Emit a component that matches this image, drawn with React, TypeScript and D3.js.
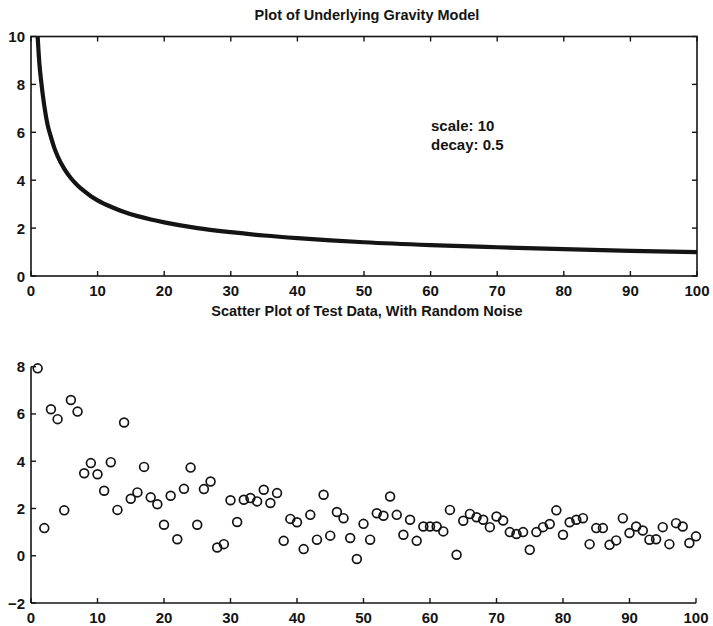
import React from "react";
import * as d3 from "d3";

// ---- Data ----
const modelX = [1, 1.25, 1.5, 2, 2.5, 3, 3.5, 4, 5, 6, 7, 8, 9, 10, 12, 14, 16, 18, 20, 25, 30, 35, 40, 45, 50, 60, 70, 80, 90, 100];
const modelY = [10, 8.9, 8.2, 7.1, 6.3, 5.8, 5.35, 5.0, 4.47, 4.08, 3.78, 3.54, 3.33, 3.16, 2.89, 2.67, 2.5, 2.36, 2.24, 2.0, 1.83, 1.69, 1.58, 1.49, 1.41, 1.29, 1.2, 1.12, 1.05, 1.0];

const noisyY = [
  7.93, 1.17, 6.2, 5.78, 1.92, 6.59, 6.1, 3.49, 3.92, 3.45,
  2.75, 3.96, 1.94, 5.64, 2.41, 2.68, 3.76, 2.47, 2.18, 1.31,
  2.54, 0.7, 2.83, 3.73, 1.31, 2.82, 3.14, 0.35, 0.49, 2.35,
  1.43, 2.37, 2.44, 2.3, 2.79, 2.23, 2.65, 0.63, 1.56, 1.42,
  0.28, 1.73, 0.68, 2.58, 0.85, 1.85, 1.59, 0.75, -0.14, 1.35,
  0.68, 1.8, 1.69, 2.51, 1.73, 0.89, 1.52, 0.63, 1.24, 1.24,
  1.24, 1.03, 1.94, 0.04, 1.48, 1.77, 1.63, 1.52, 1.21, 1.66,
  1.49, 1.0, 0.92, 1.0, 0.25, 1.0, 1.21, 1.34, 1.92, 0.89,
  1.42, 1.52, 1.59, 0.49, 1.17, 1.17, 0.46, 0.65, 1.59, 0.96,
  1.24, 1.07, 0.68, 0.7, 1.21, 0.49, 1.38, 1.24, 0.54, 0.82,
];
const noisyX = noisyY.map((_, i) => i + 1);

const xTicks = [0, 10, 20, 30, 40, 50, 60, 70, 80, 90, 100];
const topYTicks = [0, 2, 4, 6, 8, 10];
const bottomYTicks = [-2, 0, 2, 4, 6, 8];

const topTitle = "Plot of Underlying Gravity Model";
const bottomTitle = "Scatter Plot of Test Data, With Random Noise";
const annotation = ["scale: 10", "decay: 0.5"];

const FONT = "'Liberation Sans', Arial, Helvetica, sans-serif";
const INK = "#141414";

export default function App() {
  const left = 31;
  const right = 697;

  // Top panel
  const xT = d3.scaleLinear().domain([0, 100]).range([left, right]);
  const yT = d3.scaleLinear().domain([0, 10]).range([276, 36.5]);
  const line = d3
    .line<number>()
    .x((_, i) => xT(modelX[i]))
    .y((d) => yT(d))
    .curve(d3.curveMonotoneX);

  // Bottom panel
  const xB = d3.scaleLinear().domain([0, 100]).range([left, 696]);
  const yB = d3.scaleLinear().domain([-2, 8]).range([603, 366.7]);

  const tickLen = 5;
  const fs = 15;

  return (
    <svg
      width={713}
      height={626}
      style={{ position: "absolute", left: 0, top: 0, background: "#fff" }}
      fontFamily={FONT}
    >
      <rect x={0} y={0} width={713} height={626} fill="#fff" />
      {/* ---- Top panel ---- */}
      <text x={367} y={20} textAnchor="middle" fontSize={14.5} fontWeight="bold" fill={INK}>
        {topTitle}
      </text>
      <rect
        x={xT(0)}
        y={yT(10)}
        width={xT(100) - xT(0)}
        height={yT(0) - yT(10)}
        fill="none"
        stroke={INK}
        strokeWidth={1.6}
      />
      {xTicks.map((t) => (
        <g key={"xt" + t}>
          <line x1={xT(t)} x2={xT(t)} y1={yT(0)} y2={yT(0) - tickLen} stroke={INK} strokeWidth={1.4} />
          <line x1={xT(t)} x2={xT(t)} y1={yT(10)} y2={yT(10) + tickLen} stroke={INK} strokeWidth={1.4} />
          <text x={xT(t)} y={yT(0) + 19.5} textAnchor="middle" fontSize={fs} fontWeight="bold" fill={INK}>
            {t}
          </text>
        </g>
      ))}
      {topYTicks.map((t) => (
        <g key={"yt" + t}>
          <line x1={xT(0)} x2={xT(0) + tickLen} y1={yT(t)} y2={yT(t)} stroke={INK} strokeWidth={1.4} />
          <line x1={xT(100)} x2={xT(100) - tickLen} y1={yT(t)} y2={yT(t)} stroke={INK} strokeWidth={1.4} />
          <text x={xT(0) - 6} y={yT(t) + 5.5} textAnchor="end" fontSize={fs} fontWeight="bold" fill={INK}>
            {t}
          </text>
        </g>
      ))}
      <path d={line(modelY) || ""} fill="none" stroke={INK} strokeWidth={4.2} strokeLinejoin="round" />
      {annotation.map((a, i) => (
        <text key={a} x={431} y={131 + i * 19} fontSize={15} fontWeight="bold" fill={INK}>
          {a}
        </text>
      ))}

      {/* ---- Bottom panel ---- */}
      <text x={367} y={316} textAnchor="middle" fontSize={14.5} fontWeight="bold" fill={INK}>
        {bottomTitle}
      </text>
      <line x1={xB(0)} x2={xB(100)} y1={yB(-2)} y2={yB(-2)} stroke={INK} strokeWidth={1.6} />
      <line x1={xB(0)} x2={xB(0)} y1={yB(-2)} y2={yB(8)} stroke={INK} strokeWidth={1.6} />
      {xTicks.map((t) => (
        <g key={"xb" + t}>
          <line x1={xB(t)} x2={xB(t)} y1={yB(-2)} y2={yB(-2) - tickLen} stroke={INK} strokeWidth={1.4} />
          <text x={xB(t)} y={yB(-2) + 19.5} textAnchor="middle" fontSize={fs} fontWeight="bold" fill={INK}>
            {t}
          </text>
        </g>
      ))}
      {bottomYTicks.map((t) => (
        <g key={"yb" + t}>
          <line x1={xB(0)} x2={xB(0) + tickLen} y1={yB(t)} y2={yB(t)} stroke={INK} strokeWidth={1.4} />
          <text x={xB(0) - 6} y={yB(t) + 5.5} textAnchor="end" fontSize={fs} fontWeight="bold" fill={INK}>
            {t < 0 ? "\u2212" + Math.abs(t) : t}
          </text>
        </g>
      ))}
      {noisyY.map((v, i) => (
        <circle
          key={"p" + i}
          cx={xB(noisyX[i])}
          cy={yB(v)}
          r={4.4}
          fill="none"
          stroke={INK}
          strokeWidth={1.7}
        />
      ))}
    </svg>
  );
}
